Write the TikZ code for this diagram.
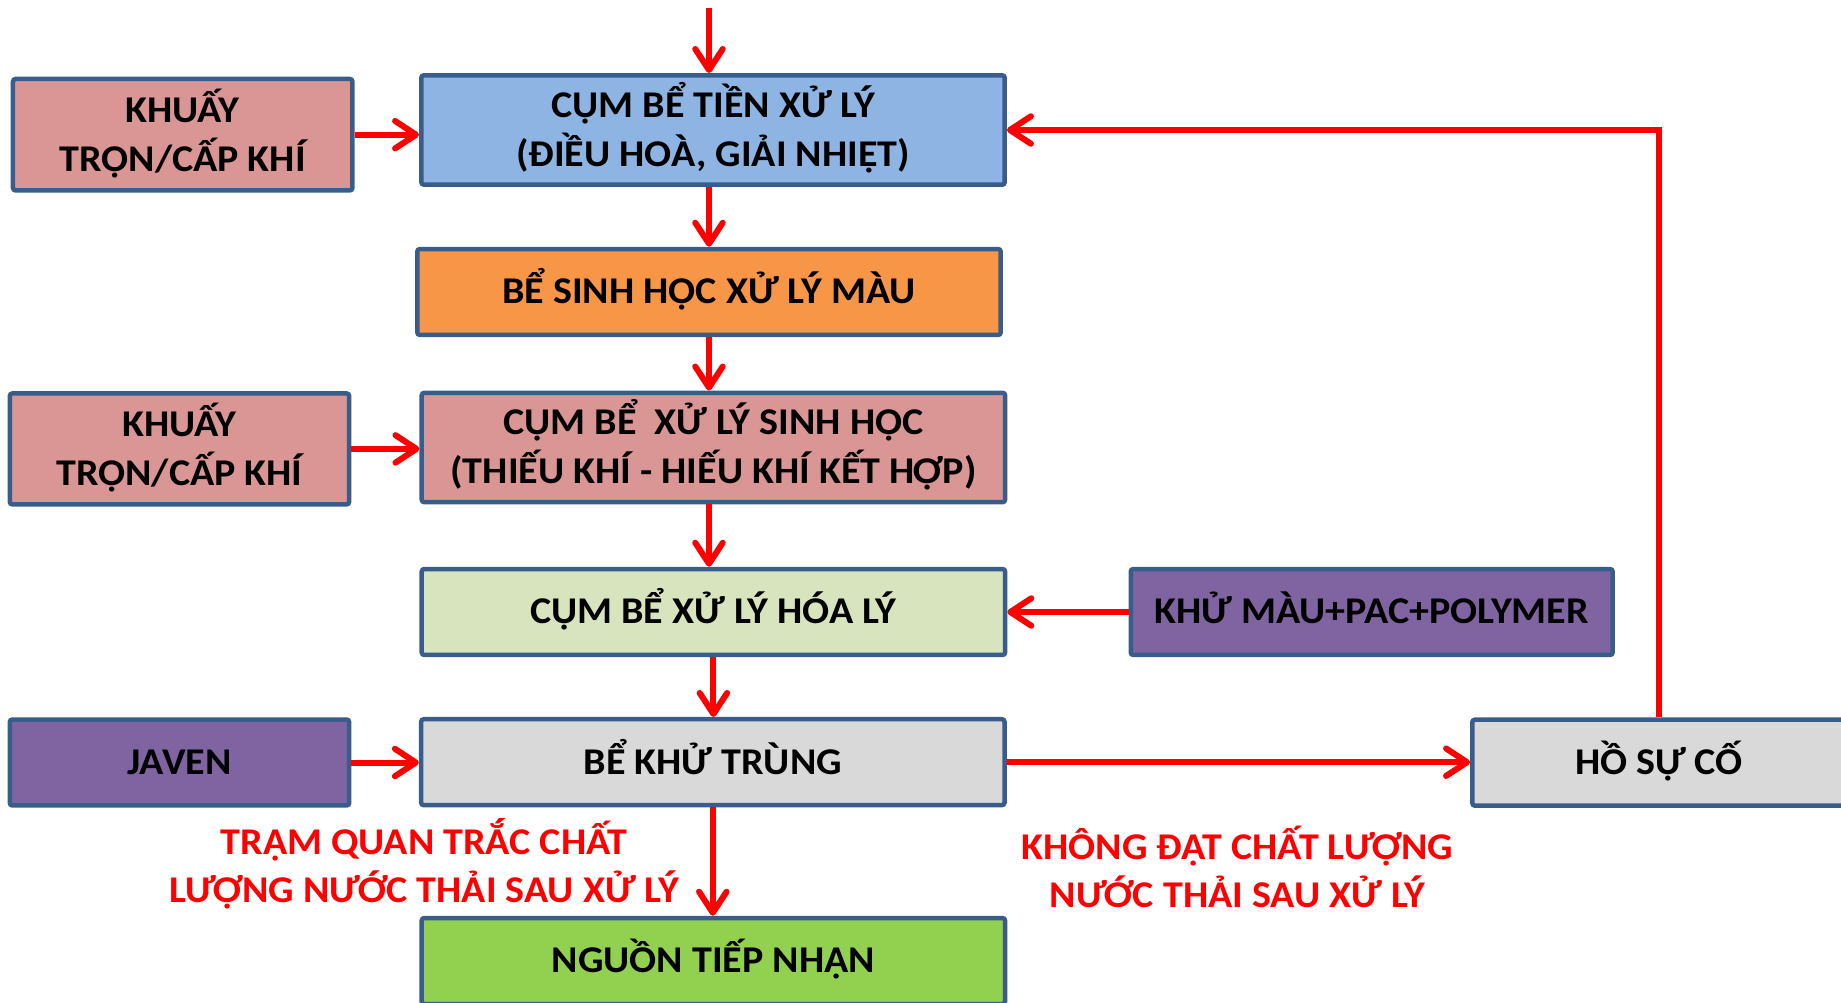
\documentclass[tikz,border=0pt]{standalone}
\usepackage{fontspec}
\setmainfont{Carlito}[FakeStretch=1.06]
\usetikzlibrary{arrows.meta}
\definecolor{bord}{HTML}{385D8A}
\definecolor{pinkf}{HTML}{D99694}
\definecolor{bluef}{HTML}{8EB4E3}
\definecolor{orangef}{HTML}{F79646}
\definecolor{greenl}{HTML}{D7E4BD}
\definecolor{purplef}{HTML}{8064A2}
\definecolor{grayf}{HTML}{D9D9D9}
\definecolor{greenf}{HTML}{92D050}
\definecolor{redl}{HTML}{FF0000}
\newcommand\lnx[1]{\rule[-0.1em]{0pt}{0.83em}\smash{#1}}
\tikzset{
  box/.style={draw=bord, line width=0.09cm, rounded corners=1.5pt, inner sep=0pt,
    align=center, text=black, font=\fontsize{21.5}{28}\selectfont\bfseries},
  mainw/.style={box, minimum width=11.67cm},
  sidew/.style={box, minimum width=6.79cm},
  twol/.style={minimum height=2.19cm},
  onel/.style={minimum height=1.72cm},
  flow/.style={draw=redl, line width=0.12cm, -{Straight Barb[length=0.42cm,width=0.55cm,round]}},
  note/.style={text=redl, align=center, inner sep=0pt, font=\fontsize{21.5}{27}\selectfont\bfseries}
}
\begin{document}
\begin{tikzpicture}[x=0.02cm, y=-0.02cm]
\useasboundingbox (0,0) rectangle (1841,1003);
\clip (0,0) rectangle (1841,1003);
% boxes
\node[sidew, twol, fill=pinkf, minimum height=2.23cm] (k1) at (182.7,134.7) {\lnx{KHUẤY}\\\lnx{TRỘN/CẤP KHÍ}};
\node[mainw, twol, fill=bluef] (c1) at (713,130) {\lnx{CỤM BỂ TIỀN XỬ LÝ}\\\lnx{(ĐIỀU HOÀ, GIẢI NHIỆT)}};
\node[mainw, onel, fill=orangef] (mau) at (709,292) {\lnx{BỂ SINH HỌC XỬ LÝ MÀU}};
\node[sidew, twol, fill=pinkf, minimum height=2.22cm] (k2) at (179.5,448.9) {\lnx{KHUẤY}\\\lnx{TRỘN/CẤP KHÍ}};
\node[mainw, twol, fill=pinkf] (c2) at (713.4,447.5) {\lnx{CỤM BỂ\ \ XỬ LÝ SINH HỌC}\\\lnx{(THIẾU KHÍ - HIẾU KHÍ KẾT HỢP)}};
\node[mainw, onel, fill=greenl] (hl) at (713.4,612) {\lnx{CỤM BỂ XỬ LÝ HÓA LÝ}};
\node[box, onel, minimum width=9.64cm, fill=purplef] (km) at (1371.7,612) {\lnx{KHỬ MÀU+PAC+POLYMER}};
\node[sidew, onel, fill=purplef] (jv) at (179.5,762.5) {\lnx{JAVEN}};
\node[mainw, onel, fill=grayf] (kt) at (712.8,762.2) {\lnx{BỂ KHỬ TRÙNG}};
\node[box, onel, minimum width=7.47cm, fill=grayf] (ho) at (1659,762.7) {\lnx{HỒ SỰ CỐ}};
\node[mainw, onel, fill=greenf] (ng) at (713.4,961) {\lnx{NGUỒN TIẾP NHẬN}};
% labels
\node[note] (lb1) at (424,866.5) {\lnx{TRẠM QUAN TRẮC CHẤT}\\\lnx{LƯỢNG NƯỚC THẢI SAU XỬ LÝ}};
\node[note] (lb2) at (1237.5,871.5) {\lnx{KHÔNG ĐẠT CHẤT LƯỢNG}\\\lnx{NƯỚC THẢI SAU XỬ LÝ}};
% connectors
\coordinate (in) at (709,8);
\draw[flow] (in) -- (in |- c1.north);
\draw[flow] (c1.south -| mau.north) -- (mau.north);
\draw[flow] (mau.south) -- (mau.south |- c2.north);
\draw[flow] (c2.south -| mau.south) -- (mau.south |- hl.north);
\draw[flow] (hl.south) -- (hl.south |- kt.north);
\draw[flow] (kt.south) -- (kt.south |- ng.north);
\draw[flow] (k1.east) -- (k1.east -| c1.west);
\draw[flow] (k2.east) -- (k2.east -| c2.west);
\draw[flow] (km.west) -- (km.west -| hl.east);
\draw[flow] (jv.east) -- (jv.east -| kt.west);
\draw[flow] (kt.east) -- (kt.east -| ho.west);
\draw[flow] (ho.north) |- (c1.east);
\end{tikzpicture}
\end{document}
